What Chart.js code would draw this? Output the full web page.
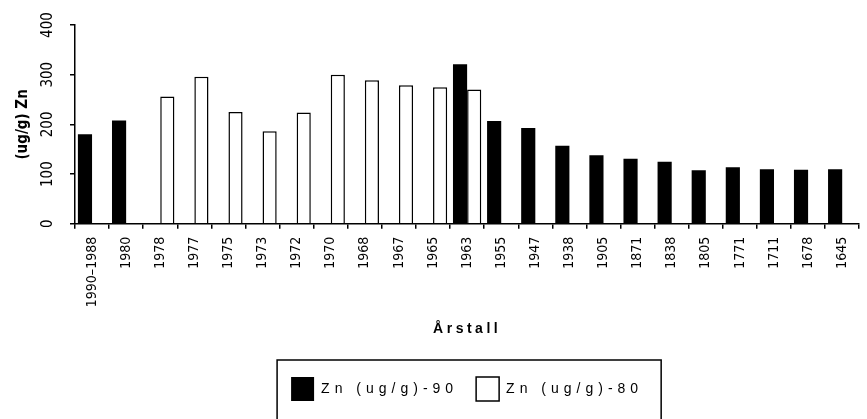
<!DOCTYPE html>
<html>
<head>
<meta charset="utf-8">
<script src="https://cdn.jsdelivr.net/npm/chart.js@4/dist/chart.umd.min.js"></script>
<style>
  html, body { margin: 0; padding: 0; background: #fff; }
  canvas { display: block; }
</style>
</head>
<body>
<canvas id="chartCanvas" width="867" height="419"></canvas>
<script>
const categories = ['1990–1988', '1980', '1978', '1977', '1975', '1973', '1972', '1970', '1968', '1967', '1965', '1963',
    '1955', '1947', '1938', '1905', '1871', '1838', '1805', '1771', '1711', '1678', '1645'];
const zn90 = [180, 208, null, null, null, null, null, null, null, null, null, 321,
    207, 193, 157, 138, 131, 125, 108, 114, 110, 109, 110];
const zn80 = [null, null, 256, 296, 225, 186, 224, 300, 289, 279, 275, 270,
    null, null, null, null, null, null, null, null, null, null, null];
const yMax = 400;
const yStep = 100;

const narrow = "'Liberation Sans Narrow', 'DejaVu Sans Condensed', sans-serif";
const plain = "'Liberation Sans', Arial, sans-serif";

// spaced-out text for legend and x title, rotated y tick labels, legend frame
const extras = {
    id: 'extras',
    beforeLayout(chart) {
        const lg = chart.legend;
        if (lg && !lg._spaced) {
            lg._spaced = true;
            const fit = lg.fit, draw = lg.draw;
            lg.fit = function () {
                this.ctx.save();
                this.ctx.letterSpacing = '5px';
                fit.call(this);
                this.ctx.restore();
            };
            lg.draw = function () {
                this.ctx.save();
                this.ctx.letterSpacing = '5px';
                draw.call(this);
                this.ctx.restore();
            };
        }
    },
    beforeDraw(chart) {
        const x = chart.scales.x;
        if (!x._spaced) {
            x._spaced = true;
            const drawTitle = x.drawTitle;
            x.drawTitle = function () {
                this.ctx.save();
                this.ctx.letterSpacing = '3.5px';
                drawTitle.call(this);
                this.ctx.restore();
            };
        }
    },
    afterDraw(chart) {
        const ctx = chart.ctx;
        const y = chart.scales.y;
        ctx.save();
        ctx.fillStyle = '#000';
        ctx.font = '15px ' + narrow;
        ctx.textAlign = 'center';
        ctx.textBaseline = 'middle';
        y.ticks.forEach(t => {
            ctx.save();
            ctx.translate(48, y.getPixelForValue(t.value));
            ctx.rotate(-Math.PI / 2);
            ctx.fillText(String(t.value), 0, 0);
            ctx.restore();
        });
        const lg = chart.legend;
        const boxes = lg.legendHitBoxes;
        if (boxes.length) {
            const first = boxes[0], last = boxes[boxes.length - 1];
            const left = first.left - 14;
            const right = last.left + last.width + 18;
            ctx.strokeStyle = '#000';
            ctx.lineWidth = 1.5;
            ctx.strokeRect(left, lg.top + 1, right - left, chart.height);
        }
        ctx.restore();
    }
};

const ctx = document.getElementById('chartCanvas').getContext('2d');
const chart = new Chart(ctx, {
    type: 'bar',
    data: {
        labels: categories,
        datasets: [{
            label: 'Zn (ug/g)-90',
            data: zn90,
            backgroundColor: '#000',
            borderColor: '#000',
            borderWidth: 0
        }, {
            label: 'Zn (ug/g)-80',
            data: zn80,
            backgroundColor: '#fff',
            borderColor: '#000',
            borderWidth: 1.5
        }]
    },
    options: {
        responsive: false,
        animation: false,
        devicePixelRatio: 1,
        categoryPercentage: 0.83,
        barPercentage: 1.0,
        layout: {
            padding: { top: 25, left: 0, right: -6, bottom: 8 }
        },
        scales: {
            x: {
                grid: {
                    offset: true,
                    drawOnChartArea: false,
                    tickLength: 5,
                    color: '#000',
                    lineWidth: 1.5
                },
                border: { color: '#000', width: 1.5 },
                ticks: {
                    autoSkip: false,
                    minRotation: 90,
                    maxRotation: 90,
                    padding: 8,
                    color: '#000',
                    font: { family: narrow, size: 14 }
                },
                title: {
                    display: true,
                    text: 'Årstall',
                    color: '#000',
                    font: { family: plain, size: 14, weight: 'bold' },
                    padding: { top: 6, bottom: 21 }
                }
            },
            y: {
                min: 0,
                max: yMax,
                ticks: { stepSize: yStep, display: false },
                grid: {
                    drawOnChartArea: false,
                    tickLength: 5,
                    color: '#000',
                    lineWidth: 1.5
                },
                border: { color: '#000', width: 1.5 },
                title: {
                    display: true,
                    text: '(ug/g) Zn',
                    color: '#000',
                    font: { family: narrow, size: 15, weight: 'bold' },
                    padding: { top: 14, bottom: 0 }
                },
                afterFit(scale) {
                    scale.width = 75;
                }
            }
        },
        plugins: {
            legend: {
                position: 'bottom',
                fullSize: false,
                labels: {
                    boxWidth: 23,
                    boxHeight: 24,
                    padding: 18,
                    color: '#000',
                    font: { family: plain, size: 14 }
                }
            },
            tooltip: { enabled: false }
        }
    },
    plugins: [extras]
});
</script>
</body>
</html>
